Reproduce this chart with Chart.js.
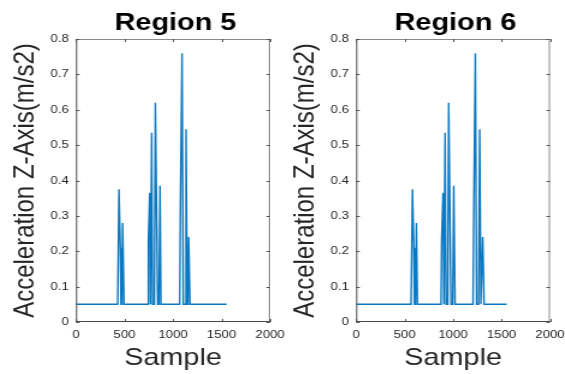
<!DOCTYPE html>
<html>
<head>
<meta charset="utf-8">
<script src="https://cdn.jsdelivr.net/npm/chart.js@4.4.1/dist/chart.umd.min.js"></script>
<style>
  html, body { margin: 0; padding: 0; background: #fff; }
  #wrap { position: relative; width: 565px; height: 374px; overflow: hidden; }
  #wrap canvas { position: absolute; top: 0; height: 374px; }
  #c5 { left: 0; width: 300px; }
  #c6 { left: 280px; width: 285px; }
</style>
</head>
<body>
<div id="wrap">
  <!-- canvases are drawn narrower and stretched wide by css -->
  <canvas id="c5" width="250" height="374" style="width:300px;height:374px"></canvas>
  <canvas id="c6" width="237" height="374" style="width:285px;height:374px"></canvas>
</div>
<script>
// Acceleration traces, sample index vs z-axis acceleration
const region5Sample = [0, 430, 443, 457, 464, 474, 481, 495, 739, 746, 760, 768, 780, 790, 808, 818, 832, 842, 856, 866, 876, 1069, 1075, 1093, 1106, 1122, 1134, 1146, 1154, 1161, 1175, 1553];
const region5Accel = [0.05, 0.05, 0.375, 0.21, 0.05, 0.05, 0.28, 0.05, 0.05, 0.23, 0.365, 0.05, 0.535, 0.05, 0.05, 0.62, 0.28, 0.05, 0.05, 0.385, 0.05, 0.05, 0.295, 0.76, 0.05, 0.05, 0.545, 0.05, 0.05, 0.24, 0.05, 0.05];

const region6Sample = [0, 567, 581, 595, 602, 612, 622, 632, 876, 882, 897, 905, 918, 928, 945, 955, 969, 979, 997, 1007, 1021, 1206, 1213, 1230, 1243, 1263, 1275, 1287, 1298, 1306, 1320, 1553];
const region6Accel = [0.05, 0.05, 0.375, 0.21, 0.05, 0.05, 0.28, 0.05, 0.05, 0.23, 0.365, 0.05, 0.535, 0.05, 0.05, 0.62, 0.28, 0.05, 0.05, 0.385, 0.05, 0.05, 0.295, 0.76, 0.05, 0.05, 0.545, 0.05, 0.05, 0.24, 0.05, 0.05];

const sampleTicks = [0, 500, 1000, 1500, 2000];
const accelTicks = [0, 0.1, 0.2, 0.3, 0.4, 0.5, 0.6, 0.7, 0.8];

const FONT = "'Liberation Sans', Arial, sans-serif";
const LINE_BLUE = '#0b78c2';

// Box around the axes with small inward tick marks, plus the panel title
const boxPlugin = {
    id: 'matlabBox',
    afterDraw(chart, args, opts) {
        const { ctx, chartArea: a, scales } = chart;
        const len = 3;
        ctx.save();
        ctx.lineWidth = 1;

        ctx.strokeStyle = '#8a8a8a';
        ctx.beginPath();
        ctx.moveTo(a.left, a.top + 0.5);
        ctx.lineTo(a.right - 0.5, a.top + 0.5);
        ctx.lineTo(a.right - 0.5, a.bottom);
        ctx.stroke();

        ctx.strokeStyle = '#4a4a4a';
        ctx.beginPath();
        ctx.moveTo(a.left + 0.5, a.top);
        ctx.lineTo(a.left + 0.5, a.bottom - 0.5);
        ctx.lineTo(a.right, a.bottom - 0.5);
        ctx.stroke();

        ctx.strokeStyle = '#555';
        ctx.beginPath();
        scales.x.ticks.forEach(t => {
            const px = Math.round(scales.x.getPixelForValue(t.value)) + 0.5;
            ctx.moveTo(px, a.bottom);
            ctx.lineTo(px, a.bottom - len);
            ctx.moveTo(px, a.top);
            ctx.lineTo(px, a.top + len);
        });
        scales.y.ticks.forEach(t => {
            const py = Math.round(scales.y.getPixelForValue(t.value)) + 0.5;
            ctx.moveTo(a.left, py);
            ctx.lineTo(a.left + len, py);
            ctx.moveTo(a.right, py);
            ctx.lineTo(a.right - len, py);
        });
        ctx.stroke();

        ctx.fillStyle = '#000';
        ctx.font = `bold 24px ${FONT}`;
        ctx.textAlign = 'center';
        ctx.textBaseline = 'alphabetic';
        ctx.fillText(opts.text, (a.left + a.right) / 2 + 2, 29.5);
        ctx.restore();
    }
};

let makeRegionChart = function (canvasId, title, samples, accel, chartLeft, padRight) {
    const points = samples.map((s, i) => ({ x: s, y: accel[i] }));
    return new Chart(document.getElementById(canvasId), {
        type: 'line',
        data: {
            datasets: [{
                data: points,
                borderColor: LINE_BLUE,
                borderWidth: 1.4,
                pointRadius: 0,
                tension: 0,
                fill: false
            }]
        },
        options: {
            responsive: false,
            animation: false,
            devicePixelRatio: 1,
            layout: { padding: { left: 0, right: padRight, top: 39, bottom: 0 } },
            plugins: {
                legend: { display: false },
                tooltip: { enabled: false },
                matlabBox: { text: title }
            },
            scales: {
                x: {
                    type: 'linear',
                    min: sampleTicks[0],
                    max: sampleTicks[sampleTicks.length - 1],
                    afterFit: scale => {
                        // let the end labels hang past the plot box
                        scale.height = 52;
                        scale.paddingLeft = 0;
                        scale.paddingRight = 0;
                    },
                    afterBuildTicks: scale => { scale.ticks = sampleTicks.map(v => ({ value: v })); },
                    grid: { display: false, drawTicks: false },
                    border: { display: false },
                    ticks: {
                        color: '#262626',
                        padding: 6,
                        maxRotation: 0,
                        font: { family: FONT, size: 11 },
                        callback: value => String(value)
                    },
                    title: {
                        display: true,
                        text: 'Sample',
                        color: '#262626',
                        font: { family: FONT, size: 24 },
                        padding: { top: 0, bottom: 1 }
                    }
                },
                y: {
                    min: accelTicks[0],
                    max: accelTicks[accelTicks.length - 1],
                    afterFit: scale => { scale.width = chartLeft; },
                    afterBuildTicks: scale => { scale.ticks = accelTicks.map(v => ({ value: v })); },
                    grid: { display: false, drawTicks: false },
                    border: { display: false },
                    ticks: {
                        color: '#262626',
                        padding: 6,
                        font: { family: FONT, size: 11 },
                        callback: value => String(value)
                    },
                    title: {
                        display: true,
                        text: 'Acceleration Z-Axis(m/s2)',
                        color: '#262626',
                        font: { family: FONT, size: 24 },
                        padding: { top: 7, bottom: 0 }
                    }
                }
            }
        },
        plugins: [boxPlugin]
    });
};

makeRegionChart('c5', 'Region 5', region5Sample, region5Accel, 63.3, 25);
makeRegionChart('c6', 'Region 6', region6Sample, region6Accel, 63.3, 12.5);
</script>
</body>
</html>
